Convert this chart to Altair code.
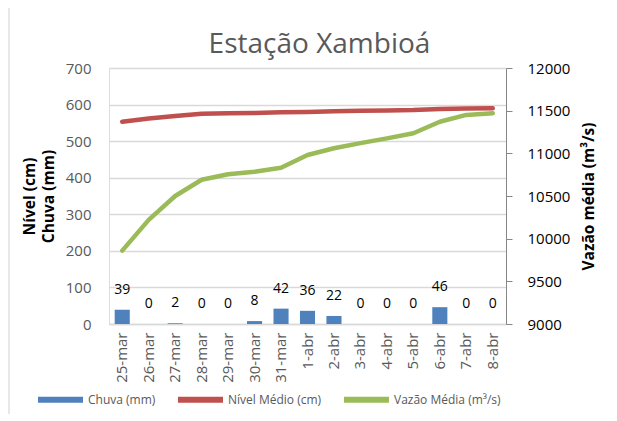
import altair as alt
import pandas as pd

# ---- data ----
datas = ["25-mar", "26-mar", "27-mar", "28-mar", "29-mar", "30-mar", "31-mar",
         "1-abr", "2-abr", "3-abr", "4-abr", "5-abr", "6-abr", "7-abr", "8-abr"]
chuva = [39, 0, 2, 0, 0, 8, 42, 36, 22, 0, 0, 0, 46, 0, 0]
nivel = [553, 562, 569, 575, 576, 577, 579, 580, 582, 583, 584, 585, 588, 589, 590]
vazao = [9860, 10220, 10500, 10690, 10755, 10785, 10830, 10980, 11060, 11120,
         11175, 11235, 11370, 11450, 11470]
series = ["Chuva (mm)", "Nível Médio (cm)", "Vazão Média (m³/s)"]
left_ticks = [0, 100, 200, 300, 400, 500, 600, 700]
right_ticks = [9000, 9500, 10000, 10500, 11000, 11500, 12000]

colors = ["#4f81bd", "#c0504d", "#9bbb59"]
FONT = "Open Sans"

df = pd.DataFrame({"data": datas, "chuva": chuva, "nivel": nivel, "vazao": vazao})
base = alt.Chart(df)

x_enc = alt.X(
    "data:N", sort=datas,
    scale=alt.Scale(paddingInner=0.43, paddingOuter=0.215),
    axis=alt.Axis(title=None, labelAngle=-90, labelFontSize=15, labelFont=FONT,
                  labelColor="#595959", labelPadding=8, ticks=False,
                  domainColor="#d9d9d9", domainWidth=1.3, grid=False),
)

left_scale = alt.Scale(domain=[0, 700], nice=False, zero=True)
left_axis = alt.Axis(
    title=["Nível (cm)", "Chuva (mm)"], values=left_ticks, grid=True,
    gridColor="#d9d9d9", gridWidth=1.3, domain=False, ticks=False,
    labelPadding=18, labelFontSize=15, labelFont=FONT, labelColor="#595959",
    titleFont=FONT, titleFontSize=15.5, titleFontWeight="bold", titleColor="#000000",
    titlePadding=9, titleLineHeight=19,
)

color_scale = alt.Scale(domain=series, range=colors)
legend = alt.Legend(
    title=None, orient="none", legendX=-71, legendY=309, direction="horizontal",
    columnPadding=22, labelOffset=5, symbolSize=2025, symbolStrokeWidth=0,
    symbolType="M-1,-0.13H1V0.13H-1Z",
    labelFontSize=12, labelFont=FONT, labelColor="#595959", padding=0,
)
color_enc = alt.Color("serie:N", scale=color_scale, legend=legend)

bars = base.transform_calculate(serie="'Chuva (mm)'").mark_bar(color=colors[0]).encode(
    x=x_enc,
    y=alt.Y("chuva:Q", scale=left_scale, axis=left_axis),
    color=color_enc,
)

labels = base.mark_text(fontSize=14, font=FONT, color="#000000", dy=-16,
                        baseline="alphabetic").encode(
    x=x_enc,
    y=alt.Y("chuva:Q", scale=left_scale, axis=left_axis),
    text=alt.Text("chuva:Q"),
)

red = base.transform_calculate(serie="'Nível Médio (cm)'").mark_line(
    strokeWidth=4.5, strokeCap="round", strokeJoin="round").encode(
    x=x_enc,
    y=alt.Y("nivel:Q", scale=left_scale, axis=left_axis),
    color=color_enc,
)

green = base.transform_calculate(serie="'Vazão Média (m³/s)'").mark_line(
    strokeWidth=4.5, strokeCap="round", strokeJoin="round").encode(
    x=x_enc,
    y=alt.Y("vazao:Q", scale=alt.Scale(domain=[9000, 12000], nice=False, zero=False),
            axis=alt.Axis(
                orient="right", title="Vazão média (m³/s)", values=right_ticks,
                format="d",
                grid=False, domain=True, domainColor="#868686", domainWidth=1,
                ticks=True, tickColor="#868686", tickSize=6, labelPadding=15,
                labelFontSize=15, labelFont=FONT, labelColor="#000000",
                titleFont=FONT, titleFontSize=15.5, titleFontWeight="bold",
                titleColor="#000000", titlePadding=12, titleAngle=270,
                titleBaseline="top")),
    color=color_enc,
)

# light chart-area frame (left and top edges) as in the spreadsheet export
frame_src = alt.Chart(pd.DataFrame({"borda": [0]}))
frame_left = frame_src.mark_rule(color="#d9d9d9", strokeWidth=1.2).encode(
    x=alt.value(-100), y=alt.value(-65), y2=alt.value(360))
frame_top = frame_src.mark_rule(color="#d9d9d9", strokeWidth=1.2).encode(
    x=alt.value(-100), x2=alt.value(510), y=alt.value(-65))

left = alt.layer(frame_left, frame_top, bars, red, labels)
chart = alt.layer(left, green).resolve_scale(y="independent").properties(
    width=397, height=256,
    title=alt.TitleParams("Estação Xambioá", font=FONT, fontSize=28, fontWeight="normal",
                          color="#595959", anchor="middle", dx=12, dy=58, offset=1),
    autosize=alt.AutoSizeParams(type="none"),
    padding={"left": 101, "top": 60, "right": 100, "bottom": 90},
).configure_view(stroke=None).configure(background="#ffffff")

chart.save("out.html", embed_options={"renderer": "svg", "actions": False})
